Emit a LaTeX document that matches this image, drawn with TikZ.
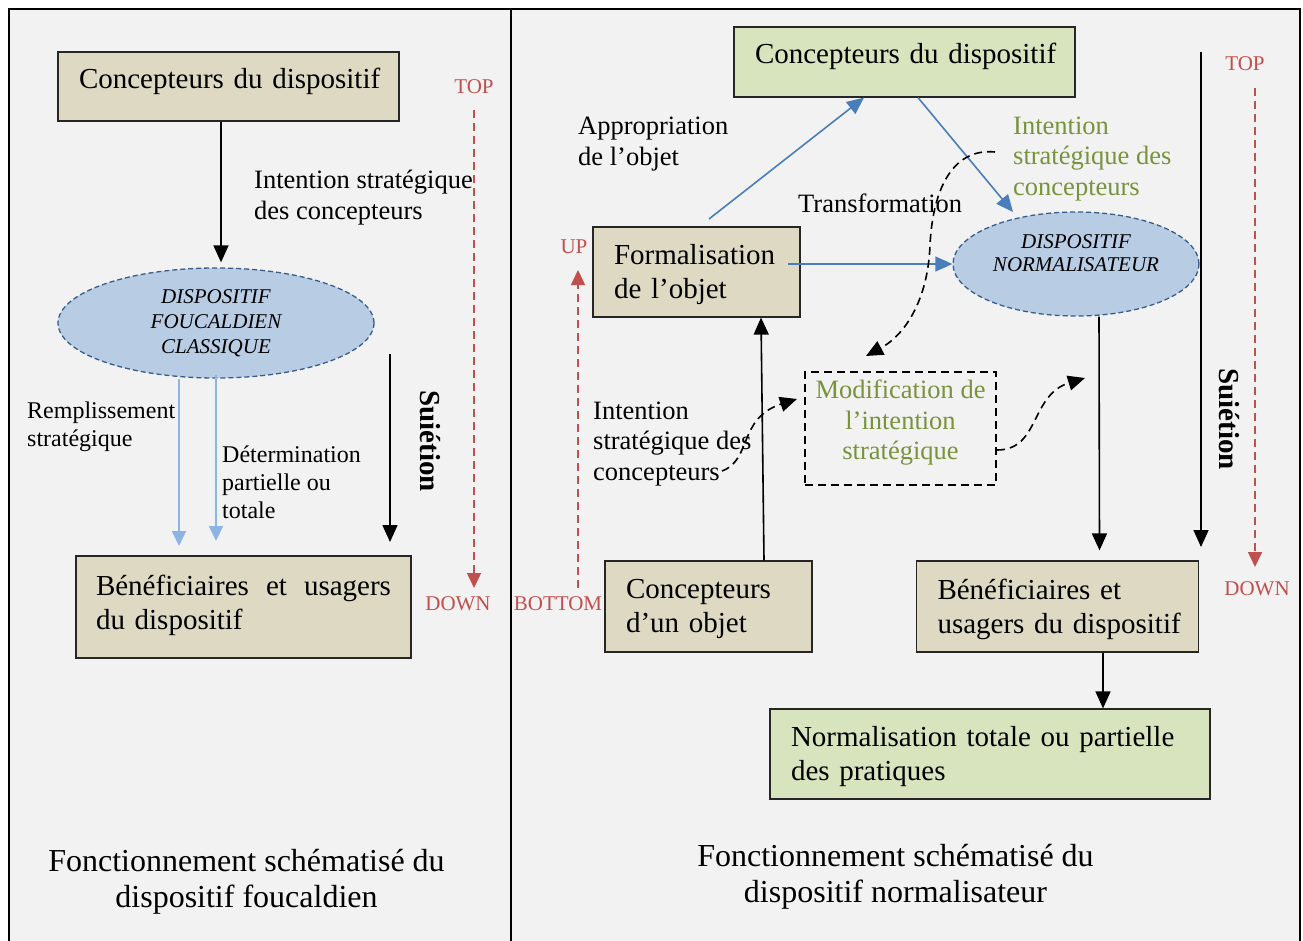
\documentclass[tikz,border=0pt]{standalone}
\usepackage{fontspec}
\setmainfont{Liberation Serif}
\usetikzlibrary{arrows.meta,shapes.geometric}
\definecolor{bgc}{HTML}{F2F2F2}
\definecolor{tanc}{HTML}{DDD9C3}
\definecolor{greenc}{HTML}{D7E4BD}
\definecolor{ellf}{HTML}{B8CCE4}
\definecolor{ellb}{HTML}{385D8A}
\definecolor{bluec}{HTML}{4A7EBB}
\definecolor{lbluec}{HTML}{8DB4E2}
\definecolor{redc}{HTML}{C0504D}
\definecolor{gtext}{HTML}{77933C}
\begin{document}
\begin{tikzpicture}[x=1pt,y=-1pt,
  box/.style={draw=black!85, line width=1.2pt, inner xsep=21pt, inner ysep=0pt, align=left, font=\fontsize{29}{34}\selectfont},
  tanbox/.style={box, fill=tanc},
  greenbox/.style={box, fill=greenc},
  ell/.style={ellipse, draw=ellb, fill=ellf, dash pattern=on 5pt off 3pt, line width=1.3pt, inner sep=0pt, align=center},
  lab/.style={font=\fontsize{26.5}{30.5}\selectfont, align=left, inner sep=0pt, anchor=west},
  redlab/.style={font=\fontsize{21}{25}\selectfont, text=redc, inner sep=0pt},
  suj/.style={rotate=-90, font=\fontsize{29}{34}\selectfont\bfseries, inner sep=0pt},
  captxt/.style={font=\fontsize{32}{35.5}\selectfont, align=center, inner sep=0pt},
  arr/.style={line width=1.6pt, -{Triangle[length=17pt,width=15pt]}},
  bluearr/.style={draw=bluec, line width=1.6pt, -{Triangle[length=17pt,width=15pt]}},
  lbarr/.style={draw=lbluec, line width=2pt, -{Triangle[length=15pt,width=14pt]}},
  redarr/.style={draw=redc, line width=1.6pt, dash pattern=on 8pt off 5pt, -{Triangle[length=15pt,width=14pt]}},
  dcurve/.style={line width=1.6pt, dash pattern=on 8pt off 5pt, -{Triangle[length=17pt,width=15pt]}}
]
\useasboundingbox (0,0) rectangle (1303,941);
\fill[white] (0,0) rectangle (1303,941);
\fill[bgc] (9,9) rectangle (1300,945);
\draw[line width=2.4pt] (9,950) -- (9,9) -- (1300,9) -- (1300,950);
\draw[line width=2.4pt] (511,9) -- (511,950);

% ---------------- left panel ----------------
\node[tanbox, minimum width=341pt, minimum height=69pt, text width=299pt, text depth=17pt] (lc) at (228.5,86.5) {\mbox{Concepteurs du dispositif}};
\node[ell, minimum width=316pt, minimum height=110pt, font=\fontsize{21}{25}\selectfont\itshape] (le) at (216,323) {DISPOSITIF\\FOUCALDIEN\\CLASSIQUE};
\node[tanbox, minimum width=335pt, minimum height=102pt, inner xsep=20pt, text width=295pt, text depth=43pt] (lben) at (243.5,607) {B\'en\'eficiaires\hfill et\hfill usagers\\\mbox{du dispositif}};

\node[lab] (lis) at (254,197.5) {Intention strat\'egique\\des concepteurs};
\node[lab, font=\fontsize{24}{28}\selectfont] (lrem) at (27,426.5) {Remplissement\\strat\'egique};
\node[lab, font=\fontsize{24}{28}\selectfont] (ldet) at (222,482) {D\'etermination\\partielle ou\\totale};
\node[suj] (lsuj) at (430,441) {Suiétion};
\node[redlab] (ltop) at (474,87) {TOP};
\node[redlab] (ldown) at (458,604) {DOWN};
\node[captxt] (lcap) at (246.5,882) {Fonctionnement sch\'ematis\'e du\\dispositif foucaldien};

\coordinate (lt1) at (179,546);
\coordinate (lt2) at (216,541);
\coordinate (ls1) at (390,354);
\coordinate (ls2) at (390,542);
\coordinate (lr1) at (474,110);
\coordinate (lr2) at (474,588);

\draw[arr] ([xshift=-7.5pt]lc.south) -- ([xshift=5pt,yshift=5pt]le.north);
\draw[lbarr] (le.south -| lt1) -- (lt1);
\draw[lbarr] ([yshift=4pt]le.south) -- (lt2);
\draw[arr] (ls1) -- (ls2);
\draw[redarr] (lr1) -- (lr2);

% ---------------- right panel ----------------
\node[greenbox, minimum width=341pt, minimum height=70pt, text width=299pt, text depth=18pt] (rc) at (904.5,62) {\mbox{Concepteurs du dispositif}};
\node[tanbox, minimum width=207pt, minimum height=90pt, text width=165pt, text depth=35pt] (form) at (696.5,272) {\mbox{Formalisation}\\\mbox{de l'objet}};
\node[ell, minimum width=246pt, minimum height=104pt, font=\fontsize{21}{23}\selectfont\itshape, text depth=21pt] (re) at (1076,264) {DISPOSITIF\\NORMALISATEUR};
\node[draw, line width=1.6pt, dash pattern=on 8pt off 5pt, minimum width=191pt, minimum height=113pt, inner sep=0pt, align=center, text=gtext, font=\fontsize{26.5}{30.5}\selectfont, text depth=17.5pt] (mod) at (900.5,428.5) {Modification de\\l'intention\\strat\'egique};
\node[tanbox, minimum width=207pt, minimum height=91pt, text width=165pt, text depth=35pt] (cuo) at (708.5,606.5) {\mbox{Concepteurs}\\\mbox{d'un objet}};
\node[tanbox, minimum width=282pt, minimum height=91pt, text width=240pt, text depth=35pt] (rben) at (1057.5,606.5) {\mbox{B\'en\'eficiaires et}\\\mbox{usagers du dispositif}};
\node[greenbox, minimum width=440pt, minimum height=90pt, text width=398pt, text depth=35pt] (norm) at (990,754) {\mbox{Normalisation totale ou partielle}\\\mbox{des pratiques}};

\node[lab] (appr) at (578,144) {Appropriation\\de l'objet};
\node[lab] (transf) at (798,203) {Transformation};
\node[lab, text=gtext] (gis) at (1013,159) {Intention\\strat\'egique des\\concepteurs};
\node[lab] (ris) at (593,444) {Intention\\strat\'egique des\\concepteurs};
\node[suj] (rsuj) at (1229,419) {Suiétion};
\node[redlab] (rtop) at (1245,64) {TOP};
\node[redlab] (rdown) at (1257,589) {DOWN};
\node[redlab] (rup) at (574,247) {UP};
\node[redlab] (rbot) at (558,604) {BOTTOM};
\node[captxt] (rcap) at (895.5,877) {Fonctionnement sch\'ematis\'e du\\dispositif normalisateur};

\coordinate (b1s) at (709,219);
\coordinate (b2e) at (1013,212);
\coordinate (b3s) at (788,264);
\coordinate (rs1) at (1201,52);
\coordinate (rs2) at (1201,547);
\coordinate (rr1) at (1255,88);
\coordinate (rr2) at (1255,567);
\coordinate (ru1) at (578,588);
\coordinate (ru2) at (578,270);
\coordinate (c1s) at (995,152);
\coordinate (c1e) at (866,356);
\coordinate (c2s) at (722,471);
\coordinate (c2e) at (797,399);
\coordinate (c3s) at (997,450);
\coordinate (c3e) at (1085,378);

\draw[bluearr] (b1s) -- ([xshift=-40.5pt]rc.south);
\draw[bluearr] ([xshift=13.5pt]rc.south) -- (b2e);
\draw[bluearr] (b3s) -- (re.west);
\draw[arr] ([xshift=55.5pt]cuo.north) -- ([xshift=64.5pt]form.south);
\draw[arr] ([xshift=23pt]re.south) -- ([xshift=42pt,yshift=10pt]rben.north);
\draw[arr] ([xshift=45.5pt]rben.south) -- ([xshift=113pt]norm.north);
\draw[arr] (rs1) -- (rs2);
\draw[redarr] (rr1) -- (rr2);
\draw[redarr] (ru1) -- (ru2);

\draw[dcurve] (c1s) .. controls (955,148) and (933,185) .. (930,245) .. controls (928,300) and (905,335) .. (c1e);
\draw[dcurve] (c2s) .. controls (752,460) and (738,418) .. (c2e);
\draw[dcurve] (c3s) .. controls (1040,450) and (1030,395) .. (c3e);
\end{tikzpicture}
\end{document}
